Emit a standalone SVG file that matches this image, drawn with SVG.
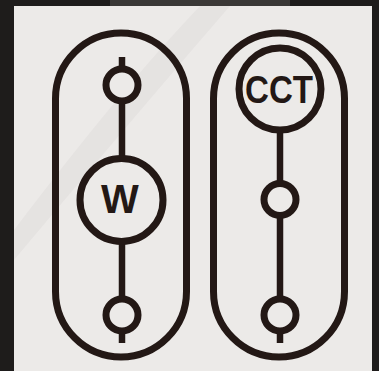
<svg xmlns="http://www.w3.org/2000/svg" width="379" height="371" viewBox="0 0 379 371">
<defs>
<style>
.ln{fill:none;stroke:#231815;stroke-width:6.5}
.cap{fill:none;stroke:#231815;stroke-width:7}
.nd{fill:#ECEAE8;stroke:#231815;stroke-width:7}
.lbl{font-family:"Liberation Sans",Arial,sans-serif;font-weight:bold;fill:#231815;text-anchor:middle}
</style>
</defs>
<rect x="0" y="0" width="379" height="371" fill="#1e1c1b"/>
<rect x="110" y="0" width="180" height="6" fill="#3a3836"/>
<rect x="14" y="6" width="358" height="365" fill="#ECEAE8"/>
<path d="M14 230 Q120 90 200 6 L230 6 Q140 110 14 260 Z" fill="#E2E0DE" opacity="0.7"/>
<g id="connectors">
<line class="ln" x1="122" y1="57" x2="122" y2="160"/>
<line class="ln" x1="122" y1="240" x2="122" y2="343"/>
<line class="ln" x1="280" y1="130" x2="280" y2="343"/>
</g>
<g id="capsule-left"><rect class="cap" x="55.5" y="33" width="131" height="324" rx="65.5" ry="65.5"/></g>
<g id="capsule-right"><rect class="cap" x="213.5" y="33" width="131" height="324" rx="65.5" ry="65.5"/></g>
<g id="left-top"><circle class="nd" cx="122" cy="85" r="16"/></g>
<g id="node-w"><circle class="nd" cx="121.5" cy="200" r="41.5"/><text class="lbl" x="120" y="213" font-size="40">W</text></g>
<g id="left-bottom"><circle class="nd" cx="122" cy="315" r="16"/></g>
<g id="node-cct"><circle class="nd" cx="280" cy="89" r="41"/><text class="lbl" x="279" y="103" font-size="38" textLength="68" lengthAdjust="spacingAndGlyphs">CCT</text></g>
<g id="right-mid"><circle class="nd" cx="280" cy="199.5" r="16"/></g>
<g id="right-bottom"><circle class="nd" cx="280" cy="315" r="16"/></g>
</svg>
